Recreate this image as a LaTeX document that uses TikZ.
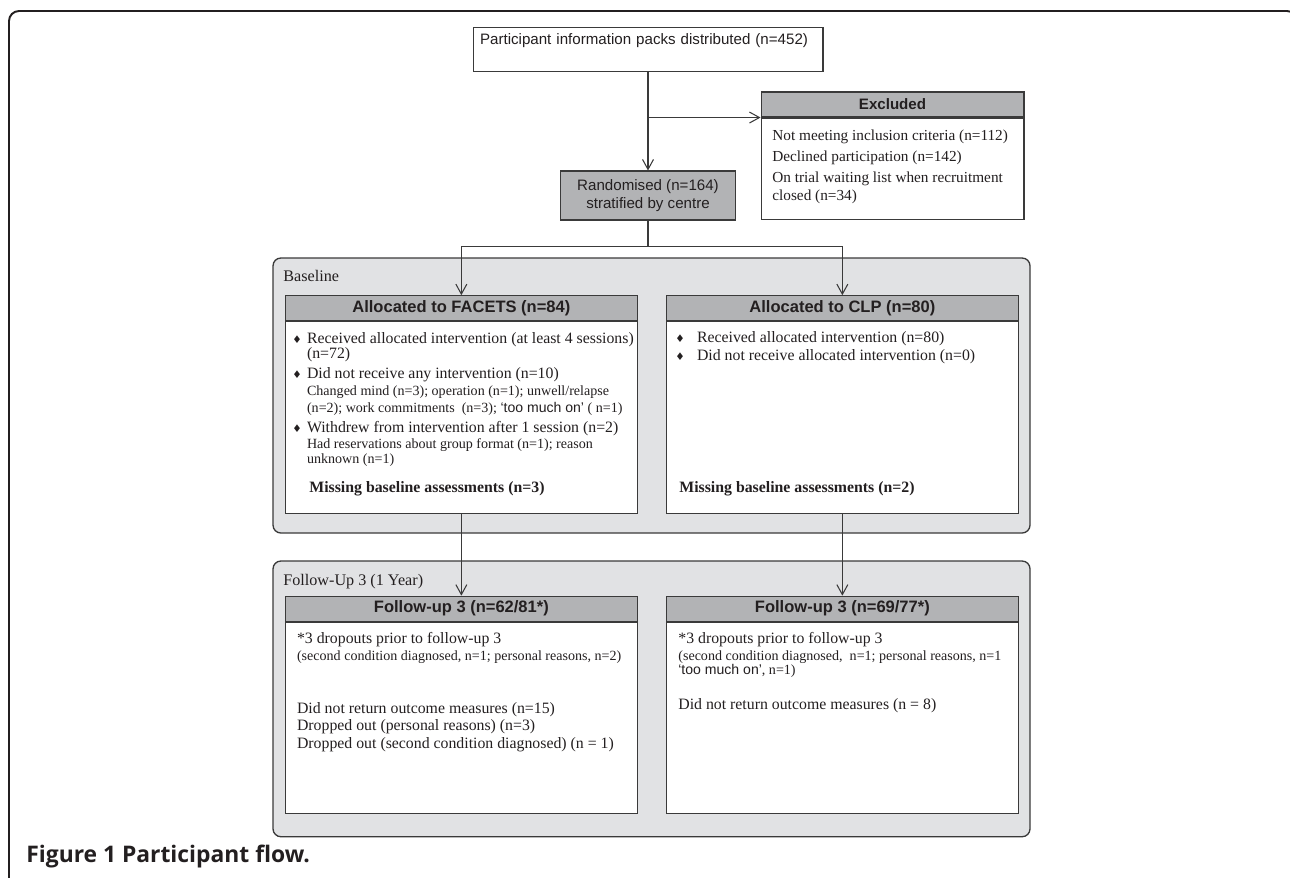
\documentclass[tikz,border=0pt]{standalone}
\usepackage{fontspec}
\setmainfont{Liberation Serif}
\setsansfont{Liberation Sans}
\newfontfamily\symfont{DejaVu Sans}
\newfontfamily\capfont{Open Sans}
\usepackage{tikz}
\usetikzlibrary{arrows.meta}
\definecolor{ink}{HTML}{231F20}
\definecolor{edge}{HTML}{3A3A3A}
\definecolor{hdrgray}{HTML}{B2B3B5}
\definecolor{grpgray}{HTML}{E1E2E4}
\newcommand{\bul}[1][3pt]{\llap{{\symfont\fontsize{6}{6}\selectfont ♦}\hspace{#1}}}
\newcommand{\subtxt}{\fontsize{8}{9}\selectfont}

\begin{document}
\begin{tikzpicture}[x=0.02cm,y=-0.02cm,
   line/.style={draw=edge,line width=0.6pt},
   arr/.style={line,-{Straight Barb[length=2mm,width=2.2mm]}},
   box/.style={draw=edge,line width=0.6pt,fill=white,inner sep=0pt},
   hdr/.style={box,fill=hdrgray,minimum height=0.5cm,text=ink,
     font=\sffamily\bfseries\fontsize{9.4}{11}\selectfont},
   bodybox/.style={box,anchor=north,minimum height=3.83cm},
   grp/.style={draw=edge,line width=0.75pt,fill=grpgray,rounded corners=4.5pt},
   txt/.style={inner sep=0pt,anchor=base west,align=left,text=ink,
     font=\fontsize{9}{8.5}\selectfont}]
  \useasboundingbox (0,0) rectangle (1290,877);
  % outer frame
  \begin{scope}
    \clip (0,0) rectangle (1290,877);
    \draw[ink,line width=1.1pt,rounded corners=5.7pt] (9,900) -- (9,11) -- (1297,11) -- (1297,900);
  \end{scope}
  % phase panels
  \draw[grp] (273,258) rectangle (1030,533);
  \draw[grp] (273,561) rectangle (1030,836.7);
  \node[txt,font=\fontsize{9.2}{10}\selectfont] (baseL) at (283,281.7) {Baseline};
  \node[txt,font=\fontsize{9.2}{10}\selectfont] (fuL) at (283,585) {Follow-Up 3 (1 Year)};
  % enrolment (multi-line texts sit on their last baseline)
  \node[box,anchor=north,minimum width=7cm,text width=6.72cm,inner xsep=0.14cm,
        text height=0.34cm,text depth=0.54cm,align=left,text=ink,
        font=\sffamily\fontsize{8.6}{10}\selectfont] (info) at (648,27)
     {Participant information packs distributed (n=452)};
  \node[box,fill=hdrgray,minimum width=3.5cm,minimum height=0.98cm,align=center,text=ink,
        font=\sffamily\fontsize{8.6}{10.2}\selectfont] (rand) at (648,195.5)
     {Randomised (n=164)\\stratified by centre};
  \node[hdr,minimum width=5.26cm,font=\sffamily\bfseries\fontsize{8.6}{10}\selectfont]
     (exclH) at (892.5,104.5) {Excluded};
  \node[box,anchor=north,minimum width=5.26cm,minimum height=2.02cm] (exclB) at (exclH.south) {};
  \node[txt,font=\fontsize{8.7}{9.8}\selectfont] (exclT) at (772,200)
     {Not meeting inclusion criteria (n=112)\\[2.5pt]
      Declined participation (n=142)\\[2.1pt]
      On trial waiting list when recruitment\\
      closed (n=34)};
  % allocation
  \node[hdr,minimum width=7.03cm] (facetsH) at (461.35,308.2) {Allocated to FACETS (n=84)};
  \node[bodybox,minimum width=7.03cm] (facetsB) at (facetsH.south) {};
  \node[hdr,minimum width=7.03cm] (clpH) at (842.35,308.2) {Allocated to CLP (n=80)};
  \node[bodybox,minimum width=7.03cm] (clpB) at (clpH.south) {};
  \node[txt] (facetsT) at (306.7,463)
     {\bul Received allocated intervention (at least 4 sessions)\\
      (n=72)\\[2.8pt]
      \bul Did not receive any intervention (n=10)\\[1.1pt]
      {\subtxt Changed mind (n=3); operation (n=1); unwell/relapse}\\[1.1pt]
      {\subtxt (n=2); work commitments\ \ (n=3); {\sffamily ‘too much on’} ( n=1)}\\[2.8pt]
      \bul Withdrew from intervention after 1 session (n=2)\\[0.6pt]
      {\subtxt Had reservations about group format (n=1); reason}\\
      {\subtxt unknown (n=1)}};
  \node[txt,font=\bfseries\fontsize{9}{10}\selectfont] (facetsM) at (309,492)
     {Missing baseline assessments (n=3)};
  \node[txt] (clpT) at (696.7,360)
     {\bul[7pt]Received allocated intervention (n=80)\\[1.7pt]
      \bul[7pt]Did not receive allocated intervention (n=0)};
  \node[txt,font=\bfseries\fontsize{9}{10}\selectfont] (clpM) at (679,492)
     {Missing baseline assessments (n=2)};
  % follow-up
  \node[hdr,minimum width=7.03cm] (fu1H) at (461.35,608.7) {Follow-up 3 (n=62/81*)};
  \node[bodybox,minimum width=7.03cm] (fu1B) at (fu1H.south) {};
  \node[hdr,minimum width=7.03cm] (fu2H) at (842.35,608.7) {Follow-up 3 (n=69/77*)};
  \node[bodybox,minimum width=7.03cm] (fu2B) at (fu2H.south) {};
  \node[txt] (fu1N) at (296.7,660)
     {*3 dropouts prior to follow-up 3\\[1.1pt]
      {\subtxt (second condition diagnosed, n=1; personal reasons, n=2)}};
  \node[txt] (fu1L) at (296.7,748)
     {Did not return outcome measures (n=15)\\[1.1pt]
      Dropped out (personal reasons) (n=3)\\[1.7pt]
      Dropped out (second condition diagnosed) (n = 1)};
  \node[txt] (fu2N) at (678,674)
     {*3 dropouts prior to follow-up 3\\[1.1pt]
      {\subtxt (second condition diagnosed,\ \ n=1; personal reasons, n=1}\\[-0.6pt]
      {\subtxt {\sffamily ‘too much on’}, n=1)}};
  \node[txt] (fu2L) at (678,709) {Did not return outcome measures (n = 8)};
  % connectors
  \coordinate (split) at (info.south |- exclB.north west);
  \coordinate (fork) at (648,246.7);
  \draw[arr] (info.south) -- (rand.north);
  \draw[arr] (split) -- (exclB.north west);
  \draw[line] (rand.south) -- (fork);
  \draw[arr] (fork) -| (facetsH.north);
  \draw[arr] (fork) -| (clpH.north);
  \draw[arr] (facetsB.south) -- (fu1H.north);
  \draw[arr] (clpB.south) -- (fu2H.north);
  % caption
  \node[anchor=base west,inner sep=0pt,text=ink,
        font=\capfont\bfseries\fontsize{13}{15}\selectfont] (cap) at (26,862)
     {Figure 1 Participant flow.};
\end{tikzpicture}
\end{document}
